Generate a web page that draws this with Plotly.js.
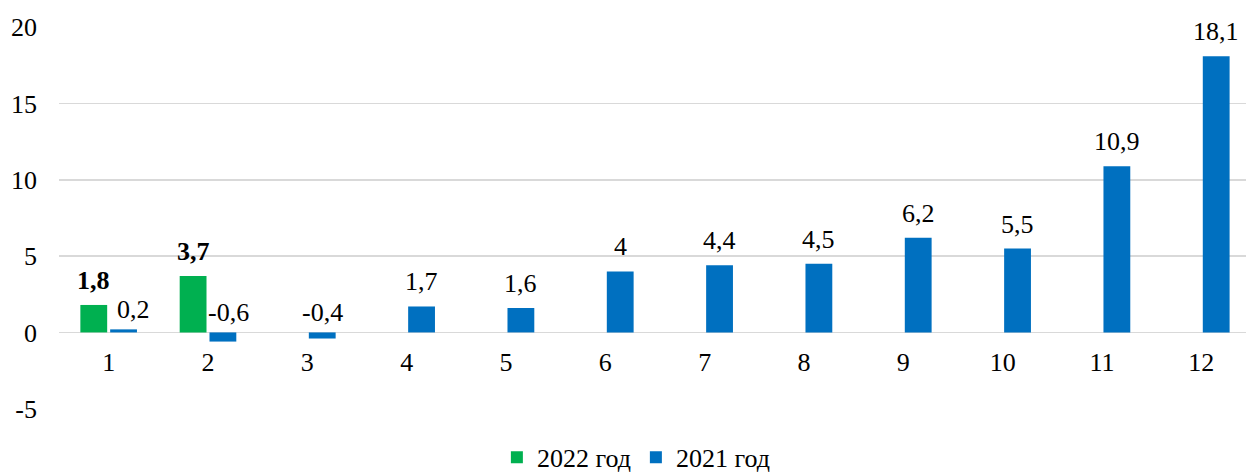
<!DOCTYPE html>
<html>
<head>
<meta charset="utf-8">
<script src="https://cdn.plot.ly/plotly-3.0.1.min.js"></script>
<style>
  html, body { margin: 0; padding: 0; background: #ffffff; }
  #chart { width: 1246px; height: 474px; }
</style>
</head>
<body>
<div id="chart"></div>
<script>
// ---- Data ----
const months = ["1", "2", "3", "4", "5", "6", "7", "8", "9", "10", "11", "12"];
const series2022Name = "2022 год";
const series2021Name = "2021 год";
const values2022 = [1.8, 3.7, null, null, null, null, null, null, null, null, null, null];
const values2021 = [0.2, -0.6, -0.4, 1.7, 1.6, 4, 4.4, 4.5, 6.2, 5.5, 10.9, 18.1];
const yTickVals = [-5, 0, 5, 10, 15, 20];
const yTickText = ["-5", "0", "5", "10", "15", "20"];

// ---- Styling ----
const FONT = "Liberation Serif, serif";
const FS = 26;
const GREEN = "#00b050";
const BLUE = "#0070c0";
const GRID = "#d9d9d9";
const BARGAP = 0.4;
const SLOT_OFFSET = (1 - BARGAP) / 4; // center offset of each of the two bar slots
const LABEL_YSHIFT = 8;
// manual label nudges (px) for the 2021 series, as in the reference (near-zero bars)
const label2021Nudge = { 0: { dx: 10, dy: -5 }, 1: { dx: 6, dy: -5 }, 2: { dx: 0, dy: -5 } };

function fmt(v) { return String(v).replace(".", ","); }

const traces = [
  {
    type: "bar",
    name: series2022Name,
    x: months,
    y: values2022,
    marker: { color: GREEN },
    hoverinfo: "skip"
  },
  {
    type: "bar",
    name: series2021Name,
    x: months,
    y: values2021,
    marker: { color: BLUE },
    hoverinfo: "skip"
  }
];

// data labels, placed above the bar top (or above the zero line for negatives)
const annotations = [];
function addLabels(vals, offset, bold, nudges) {
  vals.forEach(function (v, i) {
    if (v === null || v === undefined) return;
    const n = (nudges && nudges[i]) || { dx: 0, dy: 0 };
    annotations.push({
      x: i + offset,
      y: Math.max(v, 0),
      xref: "x",
      yref: "y",
      text: bold ? "<b>" + fmt(v) + "</b>" : fmt(v),
      showarrow: false,
      yanchor: "bottom",
      xanchor: "center",
      xshift: n.dx,
      yshift: LABEL_YSHIFT + n.dy,
      font: { family: FONT, size: FS, color: "#000000" }
    });
  });
}
addLabels(values2022, -SLOT_OFFSET, true, null);
addLabels(values2021, SLOT_OFFSET, false, label2021Nudge);

const layout = {
  width: 1246,
  height: 474,
  margin: { l: 59, r: 0, t: 27, b: 65, pad: 0, autoexpand: false },
  paper_bgcolor: "#ffffff",
  plot_bgcolor: "#ffffff",
  font: { family: FONT, size: FS, color: "#000000" },
  barmode: "group",
  bargap: BARGAP,
  bargroupgap: 0.1,
  showlegend: true,
  legend: {
    orientation: "h",
    x: 0.486,
    xanchor: "center",
    y: -0.188,
    yanchor: "bottom",
    font: { family: FONT, size: FS, color: "#000000" },
    traceorder: "normal"
  },
  xaxis: {
    type: "category",
    range: [-0.5, 11.45],
    anchor: "free",
    position: 0.2,
    showgrid: false,
    showline: false,
    zeroline: false,
    ticks: "",
    ticklabelstandoff: 11,
    tickfont: { family: FONT, size: FS, color: "#000000" },
    fixedrange: true
  },
  yaxis: {
    range: [-5.02, 20.02],
    tickvals: yTickVals,
    ticktext: yTickText,
    showgrid: true,
    gridcolor: GRID,
    gridwidth: 1.4,
    zeroline: true,
    zerolinecolor: GRID,
    zerolinewidth: 1.4,
    showline: false,
    ticks: "",
    ticklabelstandoff: 21,
    tickfont: { family: FONT, size: FS, color: "#000000" },
    fixedrange: true
  },
  annotations: annotations
};

Plotly.newPlot("chart", traces, layout, { staticPlot: true, displayModeBar: false });
</script>
</body>
</html>
